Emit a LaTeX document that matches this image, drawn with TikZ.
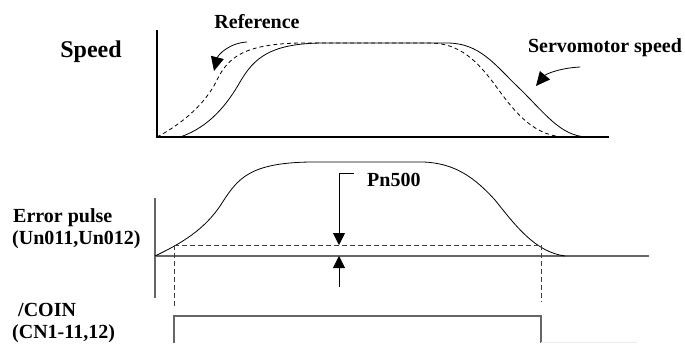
\documentclass[tikz,border=0pt]{standalone}
\usepackage{fontspec}
\setmainfont{Liberation Serif}
\usetikzlibrary{arrows.meta}
\begin{document}
\begin{tikzpicture}[x=1pt,y=-1pt,
  lbl/.style={font=\fontsize{20}{22}\selectfont\bfseries, inner sep=0pt},
  axis/.style={line width=1.1pt, black},
  gaxis/.style={line width=1.1pt, black!60},
  curve/.style={line width=0.8pt},
  dcurve/.style={line width=0.8pt, dash pattern=on 4pt off 3pt},
  dline/.style={line width=0.9pt, black!75, dash pattern=on 5pt off 3pt},
  fatarrow/.style={line width=0.8pt, -{Triangle[length=14pt,width=13pt]}}]
\useasboundingbox (0,0) rectangle (685,343);
% labels
\node[lbl, font=\fontsize{24}{26}\selectfont\bfseries] (speed) at (91,52) {Speed};
\node[lbl] (ref) at (257,22) {Reference};
\node[lbl] (servo) at (605,48) {Servomotor speed};
\node[lbl, anchor=west] (err1) at (13,218) {Error pulse};
\node[lbl, anchor=west] (err2) at (12,240) {(Un011,Un012)};
\node[lbl, anchor=west] (coin1) at (18,310) {/COIN};
\node[lbl, anchor=west] (coin2) at (12,334) {(CN1-11,12)};
\node[lbl, anchor=west] (pn) at (367,180) {Pn500};
% speed axes
\coordinate (sTop) at (157,30);
\coordinate (sO) at (157,137);
\coordinate (sEnd) at (609,137);
\draw[axis] (sTop) -- (sO) -- (sEnd);
% reference (dashed)
\draw[dcurve] (157,137) .. controls (180,125) and (205,105) .. (217,80)
  .. controls (228,57) and (245,44) .. (300,43) -- (430,43)
  .. controls (460,43) and (478,62) .. (495,85)
  .. controls (512,108) and (530,134) .. (562,137);
% servomotor speed (solid)
\draw[curve] (180,137) .. controls (210,127) and (228,103) .. (240,82)
  .. controls (254,58) and (270,44) .. (320,43) -- (447,43)
  .. controls (480,43) and (495,65) .. (518,87)
  .. controls (545,113) and (560,136) .. (587,137);
% curved arrows
\coordinate (ra1) at (247,42);
\coordinate (ra2) at (214,71);
\draw[fatarrow] (ra1) .. controls (229,43) and (218,55) .. (ra2);
\coordinate (sa1) at (580,67);
\coordinate (sa2) at (536,86);
\draw[fatarrow] (sa1) .. controls (560,68) and (546,74) .. (sa2);
% error pulse axes
\coordinate (eTop) at (155,198);
\coordinate (eBot) at (155,298);
\coordinate (eO) at (155,256);
\coordinate (eEnd) at (649,256);
\draw[gaxis] (eTop) -- (eBot);
\draw[gaxis] (eO) -- (eEnd);
% error curve
\draw[curve] (155,256) .. controls (180,244) and (205,230) .. (222,203)
  .. controls (238,178) and (250,163) .. (310,162) -- (423,162)
  .. controls (455,163) and (475,178) .. (495,200)
  .. controls (515,225) and (535,252) .. (565,256);
% threshold dashed
\coordinate (tL) at (174,245);
\coordinate (tR) at (541,245);
\draw[dline] (tL) -- (tR);
\draw[dline] (tL) -- (174,308);
\draw[dline] (tR) -- (541,302);
% Pn500 arrows
\coordinate (pnA) at (354,173);
\coordinate (pnB) at (339,173);
\coordinate (pnTip) at (339,245);
\draw[line width=0.8pt, -{Triangle[length=12pt,width=12pt]}] (pnA) -- (pnB) -- (pnTip);
\coordinate (upA) at (339,287);
\coordinate (upTip) at (339,256);
\draw[line width=0.8pt, -{Triangle[length=12pt,width=12pt]}] (upA) -- (upTip);
% COIN signal
\draw[gaxis] (174,343) -- (174,316) -- (541,316) -- (541,343);
\draw[line width=0.8pt, black!8] (541,342) -- (637,342);
\end{tikzpicture}
\end{document}
